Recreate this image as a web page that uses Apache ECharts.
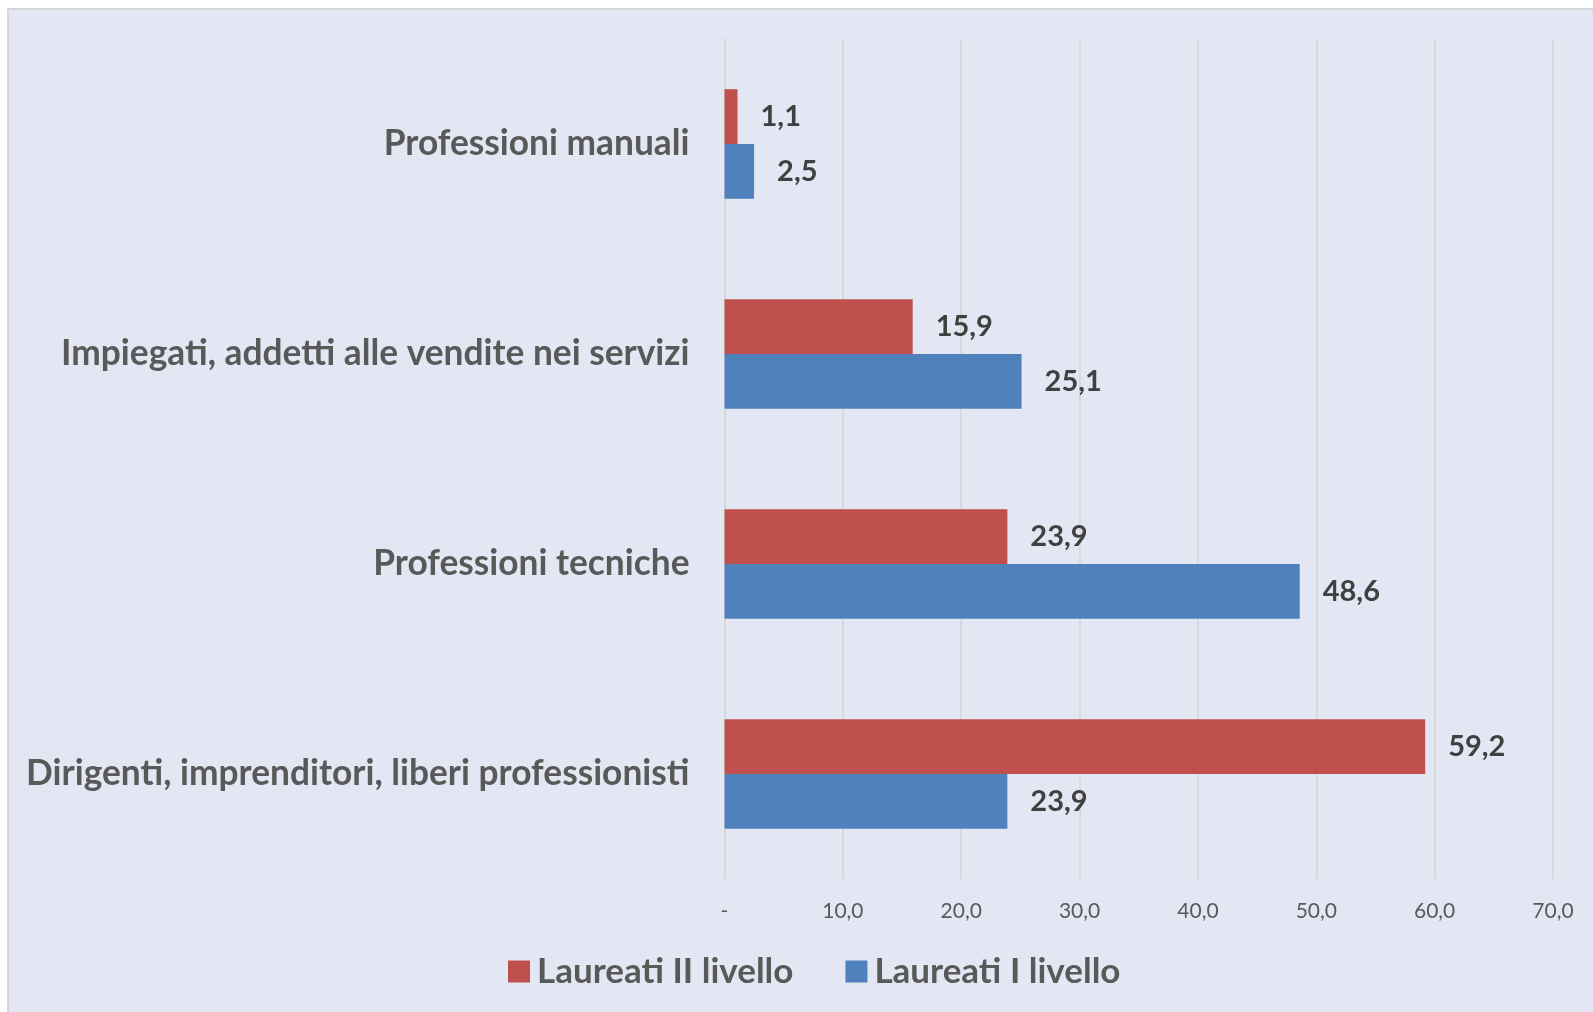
<!DOCTYPE html>
<html><head><meta charset="utf-8">
<script src="https://cdn.jsdelivr.net/npm/echarts@6/dist/echarts.min.js"></script>
<style>html,body{margin:0;padding:0;background:#fff;}#c{width:1593px;height:1012px;}</style>
</head><body><div id="c"></div>
<script>
const categories = ['Dirigenti, imprenditori, liberi professionisti', 'Professioni tecniche', 'Impiegati, addetti alle vendite nei servizi', 'Professioni manuali'];
const seriesNames = ['Laureati II livello', 'Laureati I livello'];
const laureatiII = [59.2, 23.9, 15.9, 1.1];
const laureatiI = [23.9, 48.6, 25.1, 2.5];
const xTicks = [0, 10, 20, 30, 40, 50, 60, 70];

const fmt = v => v === 0 ? '-' : v.toFixed(1).replace('.', ',');
const font = 'Lato, "Open Sans", sans-serif';

const chart = echarts.init(document.getElementById('c'), null, {renderer: 'canvas'});
chart.setOption({
  backgroundColor: '#ffffff',
  textStyle: {fontFamily: font},
  graphic: [{
    type: 'rect', z: -10, silent: true,
    shape: {x: 8, y: 9, width: 1600, height: 1020},
    style: {fill: '#E3E7F3', stroke: '#D6D6D6', lineWidth: 2}
  }],
  grid: {left: 724.5, right: 40, top: 39, bottom: 133, containLabel: false},
  legend: {
    data: seriesNames,
    bottom: 18, left: 503,
    itemWidth: 22, itemHeight: 22, itemGap: 52,
    icon: 'rect',
    textStyle: {fontFamily: font, fontSize: 35, color: '#595959', fontWeight: 'bold', padding: [0, 0, 0, 2]}
  },
  xAxis: {
    type: 'value', min: xTicks[0], max: xTicks[xTicks.length - 1], interval: 10,
    axisLine: {show: false}, axisTick: {show: false},
    splitLine: {lineStyle: {color: '#D9D9D9', width: 2}},
    axisLabel: {formatter: fmt, color: '#595959', fontSize: 21, margin: 22, fontFamily: font}
  },
  yAxis: {
    type: 'category', data: categories,
    axisLine: {show: true, lineStyle: {color: '#D9D9D9', width: 2}},
    axisTick: {show: false},
    axisLabel: {color: '#595959', fontSize: 35.3, fontWeight: 'bold', margin: 35, fontFamily: font}
  },
  series: [
    {name: seriesNames[0], type: 'bar', data: laureatiII, barGap: '0%', barCategoryGap: '47.8%',
     itemStyle: {color: '#C0504D'},
     label: {show: true, position: 'right', distance: 23, formatter: p => fmt(p.value), color: '#404040', fontSize: 29, fontWeight: 'bold', fontFamily: font}},
    {name: seriesNames[1], type: 'bar', data: laureatiI, barGap: '0%', barCategoryGap: '47.8%',
     itemStyle: {color: '#4F81BD'},
     label: {show: true, position: 'right', distance: 23, formatter: p => fmt(p.value), color: '#404040', fontSize: 29, fontWeight: 'bold', fontFamily: font}}
  ],
  animation: false
});
</script></body></html>
